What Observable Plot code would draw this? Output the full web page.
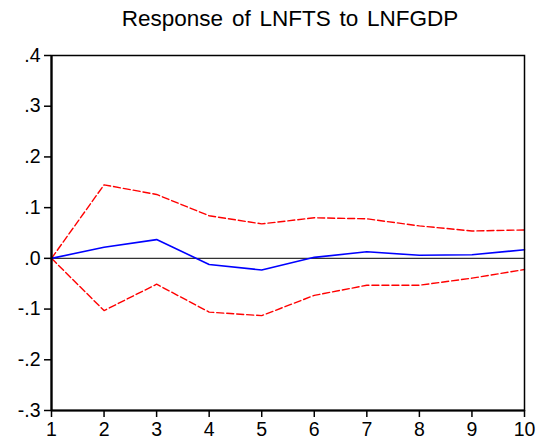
<!DOCTYPE html>
<html>
<head>
<meta charset="utf-8">
<script src="https://cdn.jsdelivr.net/npm/d3@7"></script>
<script src="https://cdn.jsdelivr.net/npm/@observablehq/plot@0.6"></script>
<style>
  html, body { margin: 0; padding: 0; background: #fff; }
  #chart svg { display: block; }
</style>
</head>
<body>
<div id="chart"></div>
<script>
const title = "Response of LNFTS to LNFGDP";
const periods = [1, 2, 3, 4, 5, 6, 7, 8, 9, 10];
const response = [0, 0.022, 0.037, -0.012, -0.023, 0.002, 0.013, 0.006, 0.007, 0.017];
const upperBand = [0, 0.145, 0.126, 0.084, 0.068, 0.080, 0.078, 0.064, 0.054, 0.056];
const lowerBand = [0, -0.103, -0.051, -0.106, -0.113, -0.073, -0.053, -0.053, -0.039, -0.022];
const yTicks = [-0.3, -0.2, -0.1, 0, 0.1, 0.2, 0.3, 0.4];
const xTicks = [1, 2, 3, 4, 5, 6, 7, 8, 9, 10];

const rows = (vals) => periods.map((p, i) => ({period: p, value: vals[i]}));
const fmtY = (d) => {
  const s = Math.abs(d).toFixed(1).replace(/^0/, "");
  return (d < -1e-9 ? "-" : "") + s;
};

const chart = Plot.plot({
  width: 554,
  height: 446,
  marginLeft: 51,
  marginRight: 30,
  marginTop: 55,
  marginBottom: 36,
  style: {fontFamily: "'Liberation Sans', Arial, sans-serif", fontSize: "19px", color: "#000", background: "#fff"},
  x: {domain: [1, 10]},
  y: {domain: [-0.3, 0.4]},
  marks: [
    Plot.axisY({ticks: yTicks, tickFormat: fmtY, tickSize: 7, tickPadding: 4, fontSize: 19.5, label: null, strokeWidth: 1.5}),
    Plot.axisX({ticks: xTicks, tickFormat: d => String(d), tickSize: 7, tickPadding: 5, fontSize: 19.5, label: null, strokeWidth: 1.5}),
    Plot.ruleY([0], {stroke: "#333", strokeWidth: 1.2}),
    Plot.line(rows(upperBand), {x: "period", y: "value", stroke: "#ff0000", strokeWidth: 1.4, strokeDasharray: "7,3"}),
    Plot.line(rows(lowerBand), {x: "period", y: "value", stroke: "#ff0000", strokeWidth: 1.4, strokeDasharray: "7,3"}),
    Plot.line(rows(response), {x: "period", y: "value", stroke: "#0000ff", strokeWidth: 1.6}),
    Plot.frame({stroke: "#000", strokeWidth: 1.5}),
    Plot.ruleX([1], {stroke: "#000", strokeWidth: 2.2}),
    Plot.ruleY([-0.3], {stroke: "#000", strokeWidth: 2.2}),
    Plot.text([title], {frameAnchor: "top", dx: 2, dy: -37, lineAnchor: "middle", fontSize: 22.5, fill: "#000"})
  ]
});
d3.select(chart).selectAll("g[aria-label='text'] text").attr("word-spacing", "2.5px");
document.getElementById("chart").appendChild(chart);
</script>
</body>
</html>
